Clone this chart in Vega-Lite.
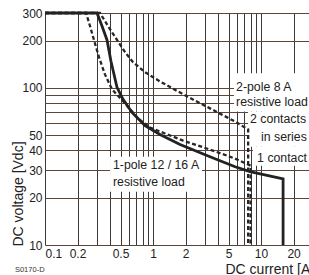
{
  "$schema": "https://vega.github.io/schema/vega-lite/v6.json",
  "width": 264,
  "height": 232,
  "autosize": {"type": "none"},
  "padding": {"left": 45, "top": 13, "right": 0, "bottom": 30},
  "background": "white",
  "config": {"view": {"stroke": null}, "font": "Liberation Sans"},
  "datasets": {
    "curves": [
      {"series": "1 contact", "pt": 1, "current": 0.1, "voltage": 300},
      {"series": "1 contact", "pt": 2, "current": 0.24, "voltage": 300},
      {"series": "1 contact", "pt": 3, "current": 0.261, "voltage": 248},
      {"series": "1 contact", "pt": 4, "current": 0.284, "voltage": 202},
      {"series": "1 contact", "pt": 5, "current": 0.316, "voltage": 157},
      {"series": "1 contact", "pt": 6, "current": 0.359, "voltage": 122},
      {"series": "1 contact", "pt": 7, "current": 0.417, "voltage": 98},
      {"series": "1 contact", "pt": 8, "current": 0.551, "voltage": 79.7},
      {"series": "1 contact", "pt": 9, "current": 0.726, "voltage": 63.9},
      {"series": "1 contact", "pt": 10, "current": 0.938, "voltage": 56},
      {"series": "1 contact", "pt": 11, "current": 1.29, "voltage": 51.3},
      {"series": "1 contact", "pt": 12, "current": 1.9, "voltage": 46.2},
      {"series": "1 contact", "pt": 13, "current": 3.37, "voltage": 40.5},
      {"series": "1 contact", "pt": 14, "current": 5.75, "voltage": 35.5},
      {"series": "1 contact", "pt": 15, "current": 8, "voltage": 32},
      {"series": "1 contact", "pt": 16, "current": 8, "voltage": 10},
      {"series": "2 contacts in series", "pt": 1, "current": 0.1, "voltage": 300},
      {"series": "2 contacts in series", "pt": 2, "current": 0.323, "voltage": 300},
      {"series": "2 contacts in series", "pt": 3, "current": 0.383, "voltage": 248},
      {"series": "2 contacts in series", "pt": 4, "current": 0.464, "voltage": 202},
      {"series": "2 contacts in series", "pt": 5, "current": 0.551, "voltage": 169},
      {"series": "2 contacts in series", "pt": 6, "current": 0.653, "voltage": 146},
      {"series": "2 contacts in series", "pt": 7, "current": 0.843, "voltage": 126},
      {"series": "2 contacts in series", "pt": 8, "current": 1.16, "voltage": 110},
      {"series": "2 contacts in series", "pt": 9, "current": 1.98, "voltage": 89.7},
      {"series": "2 contacts in series", "pt": 10, "current": 3.37, "voltage": 74.1},
      {"series": "2 contacts in series", "pt": 11, "current": 5.75, "voltage": 61.1},
      {"series": "2 contacts in series", "pt": 12, "current": 7.6, "voltage": 54.4},
      {"series": "2 contacts in series", "pt": 13, "current": 7.6, "voltage": 10},
      {"series": "1-pole 12/16 A", "pt": 1, "current": 0.1, "voltage": 300},
      {"series": "1-pole 12/16 A", "pt": 2, "current": 0.303, "voltage": 300},
      {"series": "1-pole 12/16 A", "pt": 3, "current": 0.337, "voltage": 248},
      {"series": "1-pole 12/16 A", "pt": 4, "current": 0.375, "voltage": 202},
      {"series": "1-pole 12/16 A", "pt": 5, "current": 0.408, "voltage": 148},
      {"series": "1-pole 12/16 A", "pt": 6, "current": 0.464, "voltage": 101},
      {"series": "1-pole 12/16 A", "pt": 7, "current": 0.528, "voltage": 84.6},
      {"series": "1-pole 12/16 A", "pt": 8, "current": 0.639, "voltage": 69.8},
      {"series": "1-pole 12/16 A", "pt": 9, "current": 0.843, "voltage": 57.6},
      {"series": "1-pole 12/16 A", "pt": 10, "current": 1.16, "voltage": 50.5},
      {"series": "1-pole 12/16 A", "pt": 11, "current": 1.78, "voltage": 43.6},
      {"series": "1-pole 12/16 A", "pt": 12, "current": 3.37, "voltage": 36.5},
      {"series": "1-pole 12/16 A", "pt": 13, "current": 5.75, "voltage": 31.5},
      {"series": "1-pole 12/16 A", "pt": 14, "current": 7.9, "voltage": 29.3},
      {"series": "1-pole 12/16 A", "pt": 15, "current": 16, "voltage": 26.4},
      {"series": "1-pole 12/16 A", "pt": 16, "current": 16, "voltage": 10}
    ],
    "boxes": [
      {"current": 5.62, "current2": 28, "voltage": 124, "voltage2": 70.9},
      {"current": 7.58, "current2": 28, "voltage": 70.9, "voltage2": 42.3},
      {"current": 8.42, "current2": 28, "voltage": 42.3, "voltage2": 32},
      {"current": 0.4, "current2": 2.84, "voltage": 36.5, "voltage2": 21.8}
    ],
    "labels": [
      {"text": "2-pole 8 A", "current": 5.87, "voltage": 102},
      {"text": "resistive load", "current": 5.87, "voltage": 81},
      {"text": "2 contacts", "current": 7.9, "voltage": 63},
      {"text": "in series", "current": 10, "voltage": 49},
      {"text": "1 contact", "current": 9.2, "voltage": 36},
      {"text": "1-pole 12 / 16 A", "current": 0.426, "voltage": 32.5},
      {"text": "resistive load", "current": 0.426, "voltage": 25.3}
    ],
    "code": [
      {"text": "S0170-D", "current": 0.0527, "voltage": 6.92}
    ]
  },
  "layer": [
    {
      "data": {"name": "boxes"},
      "mark": {"type": "rect", "color": "white"},
      "encoding": {
        "x": {
          "field": "current", "type": "quantitative",
          "scale": {"type": "log", "domain": [0.1, 27.8], "nice": false},
          "axis": {
            "title": "DC current [A]",
            "values": [0.1, 0.2, 0.3, 0.4, 0.5, 0.6, 0.7, 0.8, 0.9, 1, 2, 3, 4, 5, 6, 7, 8, 9, 10, 20],
            "labelExpr": "indexof([0.1, 0.2, 0.5, 1, 2, 5, 10, 20], datum.value) >= 0 ? format(datum.value, '~g') : ''",
            "grid": true, "gridColor": "#3a3a3a", "gridWidth": 1, "gridOpacity": 1,
            "ticks": false, "domain": false,
            "labelOverlap": false, "labelBound": false,
            "labelFont": "Liberation Sans",
            "labelFontSize": 12, "labelColor": "#222", "labelPadding": 3,
            "titleFont": "Liberation Sans", "titleFontSize": 14, "titleFontWeight": "normal", "titleColor": "#222",
            "titleAlign": "left", "titleBaseline": "alphabetic", "titleX": 180, "titleY": 28
          }
        },
        "x2": {"field": "current2"},
        "y": {
          "field": "voltage", "type": "quantitative",
          "scale": {"type": "log", "domain": [10, 300], "nice": false},
          "axis": {
            "title": "DC voltage [Vdc]",
            "values": [10, 20, 30, 40, 50, 60, 70, 80, 90, 100, 200, 300],
            "labelExpr": "indexof([10, 20, 30, 40, 50, 100, 200, 300], datum.value) >= 0 ? format(datum.value, 'd') : ''",
            "grid": true, "gridColor": "#5a4538", "gridWidth": 1, "gridOpacity": 1,
            "ticks": false, "domain": false,
            "labelOverlap": false, "labelBound": false,
            "labelFont": "Liberation Sans",
            "labelFontSize": 12, "labelColor": "#222", "labelPadding": 3,
            "titleFont": "Liberation Sans", "titleFontSize": 14, "titleFontWeight": "normal", "titleColor": "#222",
            "titleAngle": -90, "titleAlign": "left", "titleBaseline": "middle", "titleX": -27, "titleY": 233
          }
        },
        "y2": {"field": "voltage2"}
      }
    },
    {
      "data": {"name": "curves"},
      "transform": [{"filter": "datum.series !== '1-pole 12/16 A'"}],
      "mark": {"type": "line", "color": "#262626", "strokeWidth": 2.3, "strokeDash": [4, 2.5], "strokeJoin": "miter"},
      "encoding": {
        "x": {"field": "current", "type": "quantitative"},
        "y": {"field": "voltage", "type": "quantitative"},
        "detail": {"field": "series", "type": "nominal"},
        "order": {"field": "pt", "type": "quantitative"}
      }
    },
    {
      "data": {"name": "curves"},
      "transform": [{"filter": "datum.series === '1-pole 12/16 A'"}],
      "mark": {"type": "line", "color": "#222", "strokeWidth": 2.8, "strokeJoin": "miter"},
      "encoding": {
        "x": {"field": "current", "type": "quantitative"},
        "y": {"field": "voltage", "type": "quantitative"},
        "order": {"field": "pt", "type": "quantitative"}
      }
    },
    {
      "data": {"name": "labels"},
      "mark": {"type": "text", "align": "left", "baseline": "middle", "font": "Liberation Sans", "fontSize": 12.3, "color": "#222"},
      "encoding": {
        "x": {"field": "current", "type": "quantitative"},
        "y": {"field": "voltage", "type": "quantitative"},
        "text": {"field": "text", "type": "nominal"}
      }
    },
    {
      "data": {"name": "code"},
      "mark": {"type": "text", "align": "left", "baseline": "middle", "font": "Liberation Sans", "fontSize": 7.5, "color": "#333"},
      "encoding": {
        "x": {"field": "current", "type": "quantitative"},
        "y": {"field": "voltage", "type": "quantitative"},
        "text": {"field": "text", "type": "nominal"}
      }
    }
  ]
}
